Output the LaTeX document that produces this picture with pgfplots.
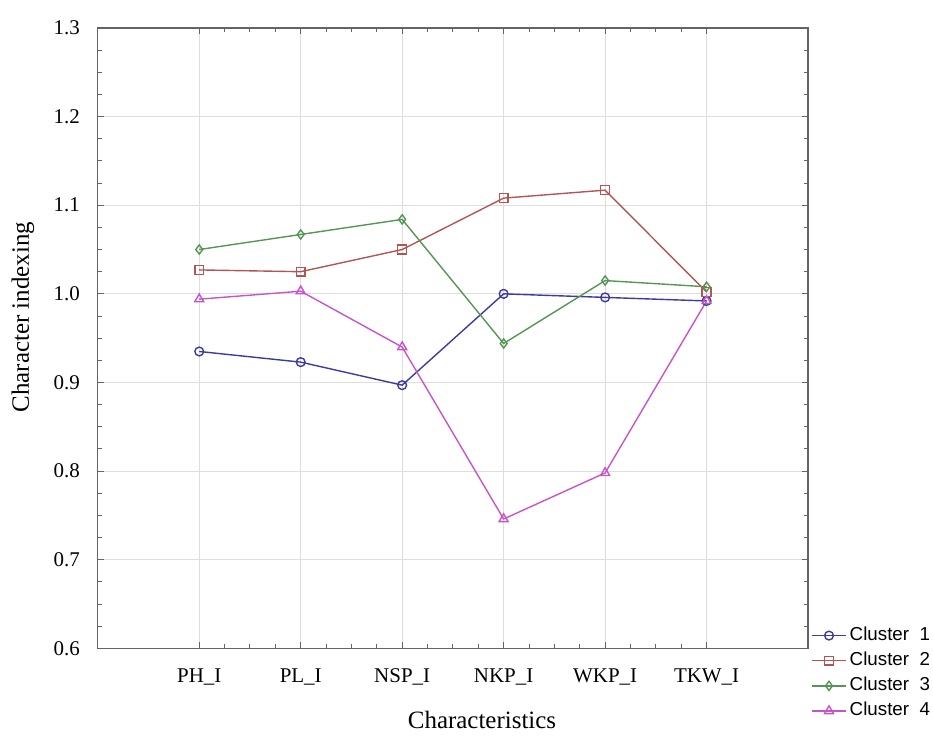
\documentclass[border=0pt]{standalone}
\usepackage{fontspec}
\setmainfont{Liberation Serif}
\setsansfont{Liberation Sans}
\usepackage{pgfplots}
\pgfplotsset{compat=1.18}
\definecolor{cA}{RGB}{60,60,160}
\definecolor{cB}{RGB}{180,85,85}
\definecolor{cC}{RGB}{85,150,85}
\definecolor{cD}{RGB}{200,85,200}
\definecolor{gridc}{RGB}{222,222,222}
\definecolor{axc}{RGB}{100,100,100}
\begin{document}
\begin{tikzpicture}
\begin{axis}[
  scale only axis,
  width=356pt, height=311pt,
  xmin=-1, xmax=6, ymin=0.6, ymax=1.3,
  xtick={0,1,2,3,4,5},
  xticklabels={PH\_I,PL\_I,NSP\_I,NKP\_I,WKP\_I,TKW\_I},
  ytick={0.6,0.7,0.8,0.9,1.0,1.1,1.2,1.3},
  minor x tick num=3, minor y tick num=3,
  yticklabel style={/pgf/number format/fixed,/pgf/number format/fixed zerofill,/pgf/number format/precision=1,xshift=-5.5pt},
  /pgf/number format/assume math mode=true,
  xticklabel style={yshift=-6.5pt},
  tick label style={font=\fontsize{10.5}{12}\selectfont},
  major tick length=3pt, minor tick length=2pt,
  tick style={axc, line width=0.5pt},
  axis line style={axc, line width=0.7pt},
  grid=major, major grid style={gridc, line width=0.5pt},
  xlabel={Characteristics}, ylabel={Character indexing},
  every axis x label/.style={at={(axis description cs:0.541,-0.1158)}, anchor=center, font=\fontsize{12.5}{14}\selectfont},
  every axis y label/.style={at={(axis description cs:-0.1053,0.534)}, anchor=center, rotate=90, font=\fontsize{12.5}{14}\selectfont},
  legend style={at={(axis description cs:1.004,0.040)}, anchor=north west, draw=none, fill=none,
    font=\sffamily\fontsize{9.4}{11}\selectfont, inner sep=0pt, row sep=1pt,
    nodes={text height=6.6pt, text depth=2pt, inner sep=1.5pt}},
  legend cell align=left,
  every axis plot/.append style={line width=0.7pt, mark options={solid, fill=white}},
]
\addplot[cA, mark=o, mark size=2.2pt] coordinates {(0,0.935) (1,0.923) (2,0.897) (3,1.000) (4,0.996) (5,0.992)};
\addlegendentry{Cluster\ \ 1}
\addplot[cB, mark=square, mark size=2.2pt] coordinates {(0,1.027) (1,1.025) (2,1.050) (3,1.108) (4,1.117) (5,1.002)};
\addlegendentry{Cluster\ \ 2}
\addplot[cC, mark=diamond, mark size=2.3pt] coordinates {(0,1.050) (1,1.067) (2,1.084) (3,0.944) (4,1.015) (5,1.008)};
\addlegendentry{Cluster\ \ 3}
\addplot[cD, mark=triangle, mark size=2.6pt] coordinates {(0,0.994) (1,1.003) (2,0.940) (3,0.746) (4,0.798) (5,0.992)};
\addlegendentry{Cluster\ \ 4}
\end{axis}
\path ([xshift=-49pt,yshift=-41.5pt]current axis.south west) rectangle ([xshift=61.5pt,yshift=14pt]current axis.north east);
\end{tikzpicture}
\end{document}
